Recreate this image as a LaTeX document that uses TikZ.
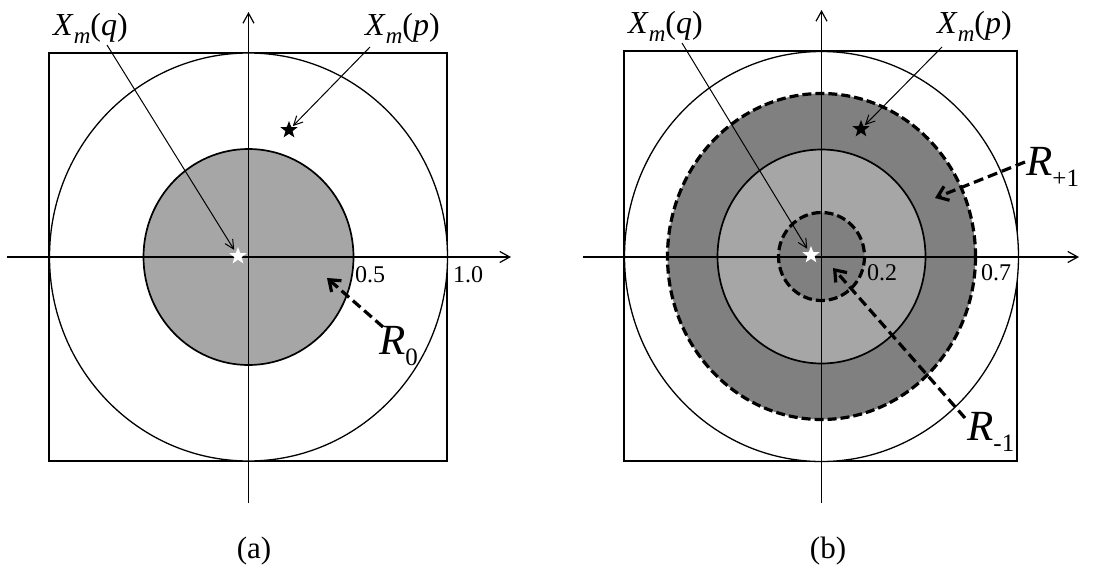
\documentclass[tikz,border=0pt]{standalone}
\usepackage{fontspec}
\setmainfont{Liberation Serif}
\usetikzlibrary{arrows.meta,shapes.geometric}
\newcommand{\XmLab}[1]{{\fontsize{32}{32}\selectfont\textit{X}\raisebox{-8pt}{\fontsize{23}{23}\selectfont\textit{m}}(\textit{#1})}}
\newcommand{\RLab}[1]{{\fontsize{43}{43}\selectfont\textit{R}\raisebox{-11pt}{\fontsize{25}{25}\selectfont #1}}}
\definecolor{lightg}{HTML}{A6A6A6}
\definecolor{darkg}{HTML}{808080}
\begin{document}
\begin{tikzpicture}[x=1pt,y=-1pt,
  frame/.style={draw=black,line width=1.2pt},
  axisline/.style={draw=black,line width=1.2pt,-{Straight Barb[length=10pt,width=11pt]}},
  ptr/.style={draw=black,line width=1pt,-{Straight Barb[length=9pt,width=9pt]}},
  bigptr/.style={draw=black,line width=3.2pt,dash pattern=on 10pt off 5pt,-{Straight Barb[length=10pt,width=15pt,line width=3.2pt]}},
  ring/.style={draw=black,line width=1.7pt},
  ringdash/.style={draw=black,line width=3.2pt,dash pattern=on 9pt off 4pt},
  whitestar/.style={star,star points=5,star point ratio=2.4,minimum size=18pt,inner sep=0pt,fill=white,draw=none},
  blackstar/.style={star,star points=5,star point ratio=2.4,minimum size=18pt,inner sep=0pt,fill=black,draw=none},
  lbl/.style={inner sep=0pt,anchor=base west},
  numlbl/.style={inner sep=0pt,anchor=base west,font=\fontsize{24}{24}\selectfont},
  caplbl/.style={inner sep=0pt,anchor=base,font=\fontsize{31}{31}\selectfont}]
\useasboundingbox (0,0) rectangle (1110,570);
\fill[white] (0,0) rectangle (1110,570);

% ================= panel (a) =================
\coordinate (ca) at (248.5,257);
\draw[frame] (49,53) rectangle (447,461);
\fill[white] (ca) ellipse [x radius=199, y radius=204];
\fill[lightg] (ca) ellipse [x radius=105, y radius=108];
\coordinate (axL) at (7,257);
\coordinate (axR) at (511,257);
\coordinate (ayB) at (248.5,503);
\coordinate (ayT) at (248.5,12);
\draw[axisline] (axL) -- (axR);
\draw[axisline] (ayB) -- (ayT);
\draw[ring,line width=1.3pt] (ca) ellipse [x radius=199, y radius=204];
\draw[ring] (ca) ellipse [x radius=105, y radius=108];
\node[whitestar] (sqa) at (238,256) {};
\node[blackstar] (spa) at (289,130) {};
\node[numlbl] (n05) at (355,282) {0.5};
\node[numlbl] (n10) at (453,282) {1.0};
\node[lbl] (lqa) at (53,35) {\XmLab{q}};
\node[lbl] (lpa) at (365,35) {\XmLab{p}};
\coordinate (lqas) at (107,45);
\coordinate (lpas) at (370,47);
\draw[ptr,shorten >=3pt] (lqas) -- (sqa);
\draw[ptr,shorten >=1pt] (lpas) -- (spa);
\node[lbl] (r0) at (379,354) {\RLab{0}};
\coordinate (r0s) at (383,327);
\coordinate (r0e) at (327,278);
\draw[bigptr] (r0s) -- (r0e);
\node[caplbl] (capa) at (254,558) {(a)};

% ================= panel (b) =================
\coordinate (cb) at (821.5,256.5);
\draw[frame] (624,51) rectangle (1017,461);
\fill[white] (cb) ellipse [x radius=197, y radius=205];
\fill[darkg] (cb) ellipse [x radius=154, y radius=163];
\fill[lightg] (cb) ellipse [x radius=104, y radius=107];
\fill[darkg] (cb) ellipse [x radius=43, y radius=44];
\coordinate (bxL) at (583,257);
\coordinate (bxR) at (1079,257);
\coordinate (byB) at (821.5,503);
\coordinate (byT) at (821.5,10);
\draw[axisline] (bxL) -- (bxR);
\draw[axisline] (byB) -- (byT);
\draw[ring,line width=1.3pt] (cb) ellipse [x radius=197, y radius=205];
\draw[ring] (cb) ellipse [x radius=104, y radius=107];
\draw[ringdash] (cb) ellipse [x radius=154, y radius=163];
\draw[ringdash] (cb) ellipse [x radius=43, y radius=44];
\node[whitestar] (sqb) at (811,255) {};
\node[blackstar] (spb) at (861,129) {};
\node[numlbl] (n02) at (867,280) {0.2};
\node[numlbl] (n07) at (981,280) {0.7};
\node[lbl] (lqb) at (628,33) {\XmLab{q}};
\node[lbl] (lpb) at (937,33) {\XmLab{p}};
\coordinate (lqbs) at (682,43);
\coordinate (lpbs) at (942,47);
\draw[ptr,shorten >=3pt] (lqbs) -- (sqb);
\draw[ptr,shorten >=1pt] (lpbs) -- (spb);
\node[lbl] (rp1) at (1026,175) {\RLab{+1}};
\coordinate (rp1s) at (1025,162);
\coordinate (rp1e) at (935,198);
\draw[bigptr] (rp1s) -- (rp1e);
\node[lbl] (rm1) at (967,440) {\RLab{-1}};
\coordinate (rm1s) at (965,418);
\coordinate (rm1e) at (833,268);
\draw[bigptr] (rm1s) -- (rm1e);
\node[caplbl] (capb) at (828,558) {(b)};
\end{tikzpicture}
\end{document}
